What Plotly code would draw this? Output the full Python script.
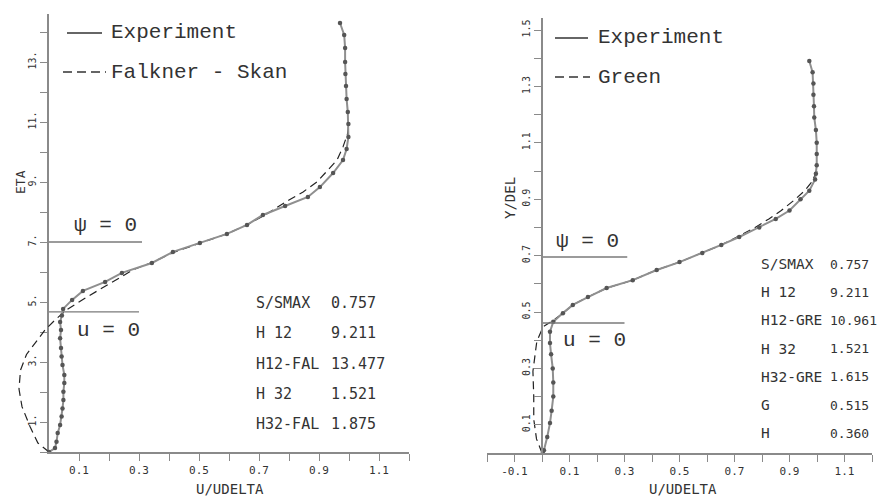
import plotly.graph_objects as go

# page has an 8px body margin, so the figure is made 8px smaller and all
# pixel positions below are page pixels shifted by that margin
PAGE_W, PAGE_H, OFF = 885, 498, 8
W, H = PAGE_W - OFF, PAGE_H - OFF

# ---------------- data ----------------
# Left panel: experiment (U/UDELTA vs ETA)
exp_left_u = [0.0, 0.02, 0.025, 0.029, 0.037, 0.042, 0.045, 0.048, 0.048, 0.051, 0.051, 0.045,
              0.042, 0.04, 0.037, 0.04, 0.037, 0.043, 0.047, 0.077, 0.113, 0.187, 0.243, 0.343,
              0.413, 0.503, 0.593, 0.66, 0.713, 0.787, 0.863, 0.903, 0.947, 0.98, 0.992,
              0.998, 0.998, 0.996, 0.992, 0.99, 0.988, 0.987, 0.987, 0.984, 0.97]
exp_left_eta = [0.0, 0.13, 0.34, 0.63, 0.9, 1.18, 1.45, 1.73, 2.01, 2.3, 2.57, 2.9,
                3.18, 3.47, 3.79, 4.07, 4.33, 4.55, 4.77, 5.07, 5.37, 5.67, 5.97, 6.3,
                6.67, 6.97, 7.27, 7.57, 7.9, 8.2, 8.5, 8.83, 9.3, 9.73, 10.1,
                10.5, 10.93, 11.33, 11.77, 12.2, 12.6, 13.0, 13.47, 13.9, 14.3]

# Left panel: Falkner - Skan
fs_u = [0.0, -0.037, -0.063, -0.09, -0.1, -0.095, -0.075, -0.041, -0.013, 0.02, 0.06,
        0.127, 0.203, 0.28, 0.35, 0.42, 0.505, 0.593, 0.66, 0.72, 0.80, 0.847, 0.893,
        0.93, 0.96, 0.98, 0.995, 1.0]
fs_eta = [0.0, 0.3, 0.84, 1.51, 2.1, 2.73, 3.25, 3.68, 4.07, 4.4, 4.75,
          5.17, 5.63, 6.07, 6.35, 6.67, 6.97, 7.27, 7.57, 7.9, 8.4, 8.67, 9.0,
          9.4, 9.73, 10.17, 10.6, 11.0]

# Right panel: experiment (U/UDELTA vs Y/DEL)
exp_right_u = [0.003, 0.007, 0.019, 0.029, 0.035, 0.041, 0.041, 0.039, 0.033, 0.029, 0.029,
               0.041, 0.076, 0.112, 0.167, 0.235, 0.33, 0.417, 0.50, 0.583, 0.652, 0.717,
               0.79, 0.85, 0.90, 0.94, 0.972, 0.993, 0.996, 0.999, 0.999, 0.999, 0.996,
               0.99, 0.989, 0.987, 0.987, 0.984, 0.972]
exp_right_y = [0.0, 0.01, 0.057, 0.106, 0.15, 0.2, 0.25, 0.30, 0.35, 0.39, 0.43,
               0.465, 0.496, 0.525, 0.553, 0.585, 0.613, 0.649, 0.677, 0.709, 0.738, 0.766,
               0.80, 0.83, 0.86, 0.90, 0.93, 0.97, 0.99, 1.02, 1.06, 1.10, 1.145,
               1.19, 1.23, 1.27, 1.31, 1.35, 1.39]

# Right panel: Green
green_u = [0.0, -0.02, -0.03, -0.03, -0.033, -0.019, 0.004, 0.04, 0.076, 0.112, 0.167,
           0.235, 0.33, 0.417, 0.50, 0.583, 0.652, 0.717, 0.775, 0.825, 0.87, 0.915,
           0.955, 0.98, 1.0]
green_y = [0.0, 0.05, 0.12, 0.2, 0.29, 0.395, 0.448, 0.47, 0.496, 0.525, 0.553,
           0.585, 0.613, 0.649, 0.677, 0.709, 0.738, 0.77, 0.80, 0.83, 0.86, 0.895,
           0.93, 0.96, 1.0]

# reference lines (psi = 0, u = 0)
left_psi_eta, left_u0_eta = 7.0, 4.67
right_psi_y, right_u0_y = 0.695, 0.461
ref_line_end = [0.31, 0.30]

# statistics tables
left_stat_labels = ["S/SMAX", "H 12", "H12-FAL", "H 32", "H32-FAL"]
left_stat_values = ["0.757", "9.211", "13.477", "1.521", "1.875"]
right_stat_labels = ["S/SMAX", "H 12", "H12-GRE", "H 32", "H32-GRE", "G", "H"]
right_stat_values = ["0.757", "9.211", "10.961", "1.521", "1.615", "0.515", "0.360"]

# ticks
left_x_ticks = [round(0.1 * i, 1) for i in range(1, 13)]
left_x_labels = ["0.1", "", "0.3", "", "0.5", "", "0.7", "", "0.9", "", "1.1", ""]
left_y_ticks = list(range(0, 15))
left_y_labels = ["", "1.", "", "3.", "", "5.", "", "7.", "", "9.", "", "11.", "", "13.", ""]
right_x_ticks = [round(-0.2 + 0.1 * i, 1) for i in range(0, 15)]
right_x_labels = ["", "-0.1", "", "0.1", "", "0.3", "", "0.5", "", "0.7", "", "0.9", "", "1.1", ""]
right_y_ticks = [round(0.1 * i, 1) for i in range(0, 16)]
right_y_labels = ["", "0.1", "", "0.3", "", "0.5", "", "0.7", "", "0.9", "", "1.1", "", "1.3", "", "1.5"]

# ---------------- layout helpers ----------------
def fx(p):
    return (p - OFF) / W

def fy(p):
    return 1 - (p - OFF) / H

AX_COL = "#8a8a8a"
TXT_COL = "#333333"
LINE_COL = "#8f8f8f"
MARK_COL = "#555555"
DASH_COL = "#222222"
MONO = "DejaVu Sans Mono"
TYPE = "Liberation Mono"

fig = go.Figure()

# left panel curves on overlay axes x3/y3 (wider domain so the dashed curve is not clipped at U=0)
fig.add_trace(go.Scatter(x=fs_u, y=fs_eta, xaxis="x3", yaxis="y3", mode="lines",
                         line=dict(color=DASH_COL, width=1.2, dash="8px,5px"), showlegend=False))
fig.add_trace(go.Scatter(x=exp_left_u, y=exp_left_eta, xaxis="x3", yaxis="y3", mode="lines+markers",
                         line=dict(color=LINE_COL, width=2),
                         marker=dict(color=MARK_COL, size=4.5), showlegend=False))
fig.add_trace(go.Scatter(x=[0, ref_line_end[0]], y=[left_psi_eta, left_psi_eta], xaxis="x", yaxis="y",
                         mode="lines", line=dict(color="#7a7a7a", width=1.3), showlegend=False))
fig.add_trace(go.Scatter(x=[0, ref_line_end[1]], y=[left_u0_eta, left_u0_eta], xaxis="x", yaxis="y",
                         mode="lines", line=dict(color="#7a7a7a", width=1.3), showlegend=False))

# right panel
fig.add_trace(go.Scatter(x=green_u, y=green_y, xaxis="x2", yaxis="y2", mode="lines",
                         line=dict(color=DASH_COL, width=1.2, dash="8px,5px"), showlegend=False))
fig.add_trace(go.Scatter(x=exp_right_u, y=exp_right_y, xaxis="x2", yaxis="y2", mode="lines+markers",
                         line=dict(color=LINE_COL, width=2),
                         marker=dict(color=MARK_COL, size=4.5), showlegend=False))
fig.add_trace(go.Scatter(x=[0, ref_line_end[0]], y=[right_psi_y, right_psi_y], xaxis="x2", yaxis="y2",
                         mode="lines", line=dict(color="#7a7a7a", width=1.3), showlegend=False))
fig.add_trace(go.Scatter(x=[0, ref_line_end[1]], y=[right_u0_y, right_u0_y], xaxis="x2", yaxis="y2",
                         mode="lines", line=dict(color="#7a7a7a", width=1.3), showlegend=False))

axis_common = dict(showgrid=False, zeroline=False, showline=True, linecolor=AX_COL, linewidth=1.5,
                   ticks="outside", ticklen=7, tickcolor=AX_COL, tickwidth=1.3,
                   tickmode="array", fixedrange=True)

# left panel geometry: x 0..1.2 at px 49..409 ; eta 0..14.6 at py 452..14
L_X0, L_X1, L_Y0, L_Y1 = 49, 409, 452, 14
# right panel geometry: x -0.2..1.2 at px 487..872 ; y 0..1.5426 at py 453..18
R_X0, R_X1, R_Y0, R_Y1 = 487, 872, 453, 18

fig.update_layout(
    width=W, height=H, margin=dict(l=0, r=0, t=0, b=0),
    paper_bgcolor="white", plot_bgcolor="rgba(0,0,0,0)",
    showlegend=False,
    xaxis=dict(axis_common, domain=[fx(L_X0), fx(L_X1)], range=[0, 1.2], anchor="y",
               tickvals=left_x_ticks, ticktext=left_x_labels,
               tickfont=dict(family=MONO, size=11, color=TXT_COL)),
    yaxis=dict(axis_common, domain=[fy(L_Y0), fy(L_Y1)], range=[0, 14.6], anchor="x",
               tickvals=left_y_ticks, ticktext=left_y_labels, tickangle=-90,
               tickfont=dict(family=MONO, size=10, color=TXT_COL)),
    xaxis3=dict(domain=[fx(L_X0 - 0.13 * 300), fx(L_X1)], range=[-0.13, 1.2], anchor="y3",
                visible=False, fixedrange=True),
    yaxis3=dict(domain=[fy(L_Y0), fy(L_Y1)], range=[0, 14.6], anchor="x3",
                visible=False, fixedrange=True),
    xaxis2=dict(axis_common, domain=[fx(R_X0), fx(R_X1)], range=[-0.2, 1.2], anchor="y2",
                tickvals=right_x_ticks, ticktext=right_x_labels,
                tickfont=dict(family=MONO, size=11, color=TXT_COL)),
    yaxis2=dict(axis_common, domain=[fy(R_Y0), fy(R_Y1)], range=[0, 1.5426], anchor="free",
                position=fx(R_X0 + 0.2 * 275),
                tickvals=right_y_ticks, ticktext=right_y_labels, tickangle=-90,
                tickfont=dict(family=MONO, size=10, color=TXT_COL)),
)

annotations = []

def text(x, y, s, size, family, xanchor="center", angle=0):
    annotations.append(dict(x=fx(x), y=fy(y), xref="paper", yref="paper", text=s, showarrow=False,
                            xanchor=xanchor, yanchor="middle", textangle=angle, borderpad=0,
                            font=dict(family=family, size=size, color=TXT_COL)))

# axis titles
text(230, 489, "U/UDELTA", 14, MONO)
text(683, 489, "U/UDELTA", 14, MONO)
text(20, 182, "ETA", 13, MONO, angle=-90)
text(510, 198, "Y/DEL", 14, MONO, angle=-90)

# legends
text(110, 33, "Experiment", 21, TYPE, xanchor="left")
text(110, 72, "Falkner - Skan", 21, TYPE, xanchor="left")
text(597, 38, "Experiment", 21, TYPE, xanchor="left")
text(597, 77, "Green", 21, TYPE, xanchor="left")

# psi / u labels
text(105, 225, "\u03c8 = 0", 21, TYPE)
text(108, 330, "u = 0", 21, TYPE)
text(587, 242, "\u03c8 = 0", 21, TYPE)
text(594, 340, "u = 0", 21, TYPE)

# stats
for i, (lab, val) in enumerate(zip(left_stat_labels, left_stat_values)):
    text(255, 303 + 30.3 * i, lab, 15, MONO, xanchor="left")
    text(330, 303 + 30.3 * i, val, 15, MONO, xanchor="left")
for i, (lab, val) in enumerate(zip(right_stat_labels, right_stat_values)):
    text(760, 264 + 28.2 * i, lab, 14.5, MONO, xanchor="left")
    text(829, 264 + 28.2 * i, val, 13, MONO, xanchor="left")

fig.update_layout(annotations=annotations)

# legend line samples
shapes = []
def seg(x0, x1, y, dash):
    shapes.append(dict(type="line", xref="paper", yref="paper", x0=fx(x0), x1=fx(x1), y0=fy(y), y1=fy(y),
                       line=dict(color="#333333", width=1.3, dash=dash)))
seg(67, 102, 33, "solid")
seg(63, 106, 72, "9px,5px")
seg(555, 588, 38, "solid")
seg(555, 590, 77, "9px,5px")
fig.update_layout(shapes=shapes)

fig.write_html("out.html")
